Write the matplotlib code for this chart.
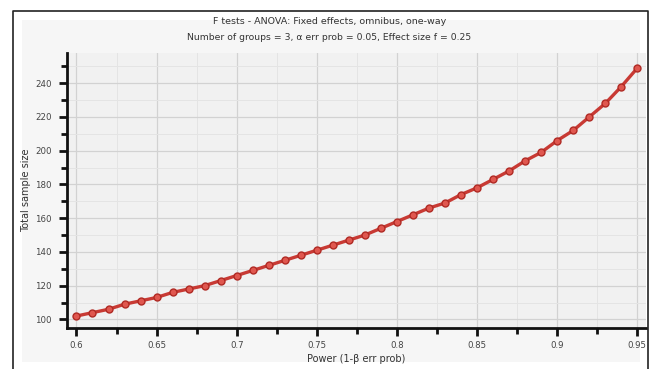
import matplotlib
matplotlib.use("Agg")
import matplotlib.pyplot as plt
from matplotlib.lines import Line2D
from matplotlib.patches import Rectangle
from matplotlib.ticker import MultipleLocator

# power values (x) and total sample size
power = [0.60, 0.61, 0.62, 0.63, 0.64, 0.65, 0.66, 0.67, 0.68, 0.69,
         0.70, 0.71, 0.72, 0.73, 0.74, 0.75, 0.76, 0.77, 0.78, 0.79,
         0.80, 0.81, 0.82, 0.83, 0.84, 0.85, 0.86, 0.87, 0.88, 0.89,
         0.90, 0.91, 0.92, 0.93, 0.94, 0.95]
sample_size = [102, 104, 106, 109, 111, 113, 116, 118, 120, 123,
               126, 129, 132, 135, 138, 141, 144, 147, 150, 154,
               158, 162, 166, 169, 174, 178, 183, 188, 194, 199,
               206, 212, 220, 228, 238, 249]

x_ticks = [0.6, 0.65, 0.7, 0.75, 0.8, 0.85, 0.9, 0.95]
x_labels = ["0.6", "0.65", "0.7", "0.75", "0.8", "0.85", "0.9", "0.95"]
y_ticks = [100, 120, 140, 160, 180, 200, 220, 240]

title1 = "F tests - ANOVA: Fixed effects, omnibus, one-way"
title2 = "Number of groups = 3, \u03b1 err prob = 0.05, Effect size f = 0.25"

W, H = 659, 369
fig = plt.figure(figsize=(W / 100, H / 100), dpi=100)
fig.patch.set_facecolor("white")

# light panel and outer frame
fig.add_artist(Rectangle((22 / W, 1 - 362 / H), (640 - 22) / W, (362 - 20) / H,
                         transform=fig.transFigure, facecolor="#f6f6f6",
                         edgecolor="none", zorder=0))
fx0, fx1, fy1 = 13 / W, 648 / W, 1 - 11 / H
fig.add_artist(Line2D([fx0, fx0, fx1, fx1], [0, fy1, fy1, 0],
                      transform=fig.transFigure, color="#222222", lw=1.2))

ax = fig.add_axes([67 / W, 1 - 328 / H, (646 - 67) / W, (328 - 53) / H])
ax.set_facecolor("#f1f1f1")

ax.plot(power, sample_size, color="#c83a34", lw=2.4, marker="o", ms=5,
        mfc="#e0574f", mec="#b02a24", mew=1.0, zorder=3)

ax.set_xlim(0.5941, 0.9554)
ax.set_ylim(94.9, 257.9)
ax.set_xticks(x_ticks)
ax.set_xticklabels(x_labels)
ax.set_yticks(y_ticks)
ax.xaxis.set_minor_locator(MultipleLocator(0.025))
ax.yaxis.set_minor_locator(MultipleLocator(10))

ax.grid(which="major", color="#d2d2d2", lw=0.9)
ax.grid(which="minor", color="#e4e4e4", lw=0.7)
ax.set_axisbelow(True)

for s in ("top", "right"):
    ax.spines[s].set_visible(False)
for s in ("left", "bottom"):
    ax.spines[s].set_linewidth(2)
    ax.spines[s].set_color("#111111")

ax.tick_params(which="major", length=6, width=2, color="#111111",
               labelsize=6.2, labelcolor="#444444", pad=3)
ax.tick_params(which="minor", length=4, width=2, color="#111111")
ax.tick_params(axis="y", pad=5)

ax.set_xlabel("Power (1-\u03b2 err prob)", fontsize=7, color="#333333", labelpad=3)
ax.set_ylabel("Total sample size", fontsize=7, color="#333333", labelpad=3)

fig.text(0.5, 1 - 21 / H, title1, ha="center", va="center", fontsize=6.8, color="#333333")
fig.text(0.5, 1 - 38 / H, title2, ha="center", va="center", fontsize=6.7, color="#333333")

fig.savefig("out.png", dpi=100)
